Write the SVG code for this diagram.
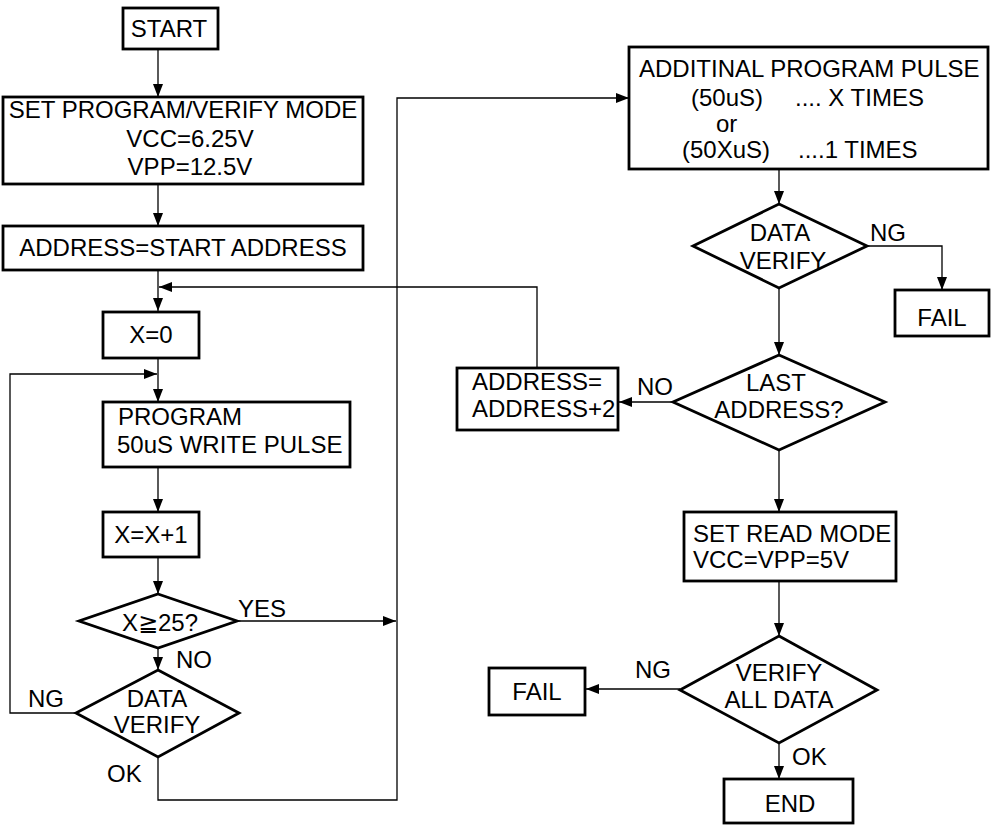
<svg xmlns="http://www.w3.org/2000/svg" width="993" height="827" viewBox="0 0 993 827">
<defs>
<marker id="ah" markerWidth="13" markerHeight="10" refX="13" refY="5" orient="auto" markerUnits="userSpaceOnUse"><path d="M0,0 L13,5 L0,10 z" fill="#000"/></marker>
<style>
.box{fill:#fff;stroke:#000;stroke-width:2.8}
.dia{fill:#fff;stroke:#000;stroke-width:2.8;stroke-linejoin:miter}
.ln{fill:none;stroke:#000;stroke-width:1.3}
.arr{fill:none;stroke:#000;stroke-width:1.3;marker-end:url(#ah)}
text{font-family:"Liberation Sans",Arial,"DejaVu Sans",sans-serif;font-size:24px;fill:#000}
.c{text-anchor:middle}
</style>
</defs>
<rect width="993" height="827" fill="#fff"/>
<g id="connectors">
<path class="arr" d="M158,49 V97"/>
<path class="arr" d="M158,184 V226"/>
<path class="arr" d="M158,270 V311"/>
<path class="arr" d="M537,368 V287 H159"/>
<path class="arr" d="M158,358 V402"/>
<path class="arr" d="M76,713 H10 V374 H157"/>
<path class="arr" d="M158,467 V512"/>
<path class="arr" d="M158,557 V594"/>
<path class="arr" d="M237,621 H396"/>
<path class="arr" d="M158,648 V670"/>
<path class="arr" d="M158,757 V800 H397 V98 H629"/>
<path class="arr" d="M779,169 V204"/>
<path class="arr" d="M867,246 H942 V290"/>
<path class="arr" d="M779,288 V355"/>
<path class="arr" d="M673,402 H619"/>
<path class="arr" d="M779,450 V512"/>
<path class="arr" d="M779,581 V636"/>
<path class="arr" d="M680,689 H586"/>
<path class="arr" d="M779,743 V779"/>
</g>
<g id="start"><rect class="box" x="123" y="8" width="95" height="41"/><text class="c" x="169" y="37">START</text></g>
<g id="set-program"><rect class="box" x="3" y="97" width="360" height="87"/>
<text class="c" x="183" y="118">SET PROGRAM/VERIFY MODE</text>
<text class="c" x="190" y="147">VCC=6.25V</text>
<text class="c" x="190" y="175">VPP=12.5V</text></g>
<g id="address-start"><rect class="box" x="3" y="226" width="360" height="44"/><text class="c" x="183" y="256">ADDRESS=START ADDRESS</text></g>
<g id="x0"><rect class="box" x="103" y="312" width="96" height="46"/><text class="c" x="151" y="343">X=0</text></g>
<g id="program"><rect class="box" x="103" y="402" width="247" height="65"/>
<text x="118" y="425">PROGRAM</text>
<text x="117" y="453">50uS WRITE PULSE</text></g>
<g id="xinc"><rect class="box" x="103" y="512" width="96" height="45"/><text class="c" x="151" y="543">X=X+1</text></g>
<g id="x25"><polygon class="dia" points="158,594 237,621 158,648 79,621"/><text class="c" x="160" y="631">X≧25?</text></g>
<g id="verify1"><polygon class="dia" points="158,670 239,713 158,757 76,713"/>
<text class="c" x="157" y="707">DATA</text><text class="c" x="157" y="733">VERIFY</text></g>
<g id="labels-left">
<text x="238" y="617">YES</text>
<text x="176" y="668">NO</text>
<text x="28" y="707">NG</text>
<text x="107" y="782">OK</text>
</g>
<g id="additional"><rect class="box" x="629" y="47" width="359" height="122"/>
<text x="639" y="77">ADDITINAL PROGRAM PULSE</text>
<text x="691" y="106">(50uS)</text><text x="795" y="106">.... X TIMES</text>
<text x="716" y="132">or</text>
<text x="682" y="158">(50XuS)</text><text x="798" y="158">....1 TIMES</text></g>
<g id="verify2"><polygon class="dia" points="779,204 867,246 779,288 693,246"/>
<text class="c" x="780" y="241">DATA</text><text class="c" x="783" y="269">VERIFY</text></g>
<g id="fail1"><rect class="box" x="895" y="290" width="94" height="46"/><text class="c" x="942" y="326">FAIL</text></g>
<g id="last"><polygon class="dia" points="779,355 885,402 779,450 673,402"/>
<text class="c" x="776" y="391">LAST</text><text class="c" x="779" y="418">ADDRESS?</text></g>
<g id="address-inc"><rect class="box" x="457" y="368" width="161" height="62"/>
<text x="472" y="390">ADDRESS=</text><text x="472" y="417">ADDRESS+2</text></g>
<g id="read-mode"><rect class="box" x="684" y="512" width="212" height="69"/>
<text x="693" y="542">SET READ MODE</text><text x="693" y="568">VCC=VPP=5V</text></g>
<g id="verify-all"><polygon class="dia" points="779,636 877,690 779,743 680,690"/>
<text class="c" x="779" y="681">VERIFY</text><text class="c" x="779" y="708">ALL DATA</text></g>
<g id="fail2"><rect class="box" x="489" y="668" width="96" height="47"/><text class="c" x="537" y="700">FAIL</text></g>
<g id="end"><rect class="box" x="724" y="779" width="129" height="44"/><text class="c" x="790" y="812">END</text></g>
<g id="labels-right">
<text x="870" y="241">NG</text>
<text x="637" y="395">NO</text>
<text x="635" y="678">NG</text>
<text x="792" y="765">OK</text>
</g>
</svg>
